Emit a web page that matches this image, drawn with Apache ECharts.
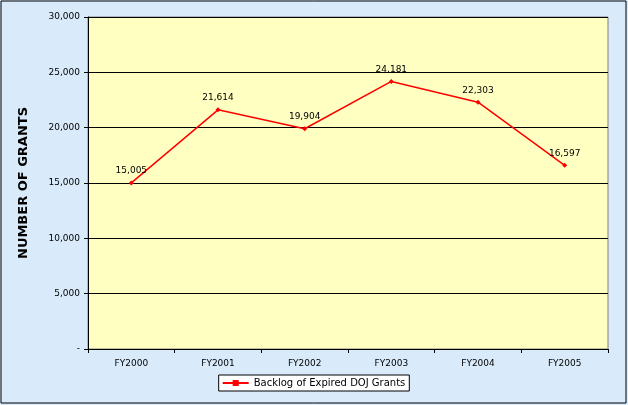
<!DOCTYPE html><html><head><meta charset="utf-8"><script src="https://cdn.jsdelivr.net/npm/echarts@6/dist/echarts.min.js"></script>
<style>html,body{margin:0;padding:0;background:#fff}#c{width:628px;height:405px}</style></head><body><div id="c"></div><script>
const categories=["FY2000","FY2001","FY2002","FY2003","FY2004","FY2005"];
const grants=[15005,21614,19904,24181,22303,16597];
const seriesName="Backlog of Expired DOJ Grants";
const ch=echarts.init(document.getElementById('c'));
ch.setOption({
 backgroundColor:'#D9EBFB',
 graphic:[{type:'rect',shape:{x:1,y:1,width:625,height:402},style:{fill:'none',stroke:'#000',lineWidth:1}}],
 textStyle:{fontFamily:'DejaVu Sans'},
 grid:{left:88,right:20,top:17,bottom:56,show:true,backgroundColor:'#FFFFC2',borderColor:'#808080',borderWidth:1},
 legend:{bottom:14,left:'center',itemWidth:26,itemHeight:6,borderColor:'#000',borderWidth:1,borderRadius:0,padding:[3,4],backgroundColor:'#fff',textStyle:{fontSize:10,color:'#000'},data:[{name:seriesName,icon:'path://M0,2h26v2h-26z M10,0h6v6h-6z'}]},
 xAxis:{type:'category',data:categories,boundaryGap:true,axisLine:{lineStyle:{color:'#000'}},axisTick:{show:true,interval:0,length:4,lineStyle:{color:'#000'}},axisLabel:{fontSize:9,color:'#000',margin:10}},
 yAxis:{type:'value',min:0,max:30000,interval:5000,name:'NUMBER OF GRANTS',nameLocation:'middle',nameGap:58,nameTextStyle:{fontSize:13,fontWeight:'bold',color:'#000'},axisLine:{show:true,lineStyle:{color:'#000'}},axisTick:{show:true,length:4,lineStyle:{color:'#000'}},axisLabel:{fontSize:9,color:'#000',formatter:v=>v===0?'-':v.toLocaleString('en-US')},splitLine:{lineStyle:{color:'#000'}}},
 series:[{name:seriesName,type:'line',data:grants,color:'#FF0000',lineStyle:{width:1.5},symbol:'diamond',symbolSize:5,label:{show:true,position:'top',fontSize:9,color:'#000',formatter:p=>p.value.toLocaleString('en-US')}}]
});
</script></body></html>
